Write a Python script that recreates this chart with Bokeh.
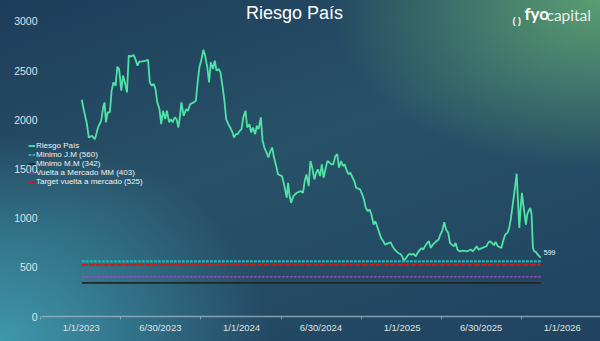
import pandas as pd
from bokeh.plotting import figure
from bokeh.models import Range1d, FixedTicker, Legend, LegendItem, Label
from bokeh.embed import file_html
from bokeh.resources import INLINE

# ---------------- data ----------------
base_date = "2023-01-02"
days = [
    0, 5, 11, 16, 23, 30, 37, 44, 49, 52,
    55, 59, 64, 68, 72, 77, 81, 85, 90, 94,
    98, 103, 107, 112, 118, 122, 127, 131, 138, 146,
    151, 155, 159, 164, 168, 172, 177, 181, 185, 190,
    194, 199, 203, 207, 212, 216, 220, 223, 227, 232,
    238, 242, 247, 255, 260, 264, 268, 273, 277, 281,
    286, 290, 294, 299, 303, 307, 312, 316, 321, 325,
    329, 334, 338, 342, 347, 351, 355, 360, 364, 368,
    373, 377, 382, 386, 390, 395, 399, 403, 408, 412,
    416, 421, 425, 430, 434, 438, 443, 447, 456, 460,
    464, 467, 470, 473, 477, 482, 490, 499, 504, 508,
    512, 517, 521, 525, 530, 534, 538, 543, 547, 551,
    556, 560, 569, 573, 578, 582, 586, 591, 595, 599,
    604, 608, 612, 617, 621, 625, 634, 639, 643, 647,
    652, 656, 660, 665, 669, 673, 678, 682, 687, 691,
    700, 704, 708, 713, 717, 721, 726, 730, 734, 739,
    743, 747, 752, 756, 761, 765, 769, 774, 778, 782,
    787, 791, 795, 800, 804, 808, 813, 817, 821, 826,
    830, 835, 839, 843, 848, 852, 856, 861, 869, 878,
    887, 891, 896, 900, 904, 913, 922, 926, 930, 935,
    939, 943, 948, 956, 961, 965, 970, 974, 978, 981,
    984, 987, 991, 994, 997, 1000, 1003, 1006, 1009, 1012,
    1015, 1018, 1022, 1025, 1028, 1031, 1035, 1039, 1043, 1046,
]
riesgo_pais = [
    2204, 2092, 1973, 1820, 1837, 1803, 1922, 1990, 2132, 2177,
    1973, 2075, 2075, 2296, 2381, 2347, 2540, 2517, 2296, 2449,
    2381, 2279, 2653, 2643, 2660, 2619, 2551, 2592, 2595, 2602,
    2609, 2381, 2347, 2364, 2313, 2177, 2109, 1956, 2092, 2007,
    2092, 1973, 2007, 1973, 2024, 2007, 1922, 2007, 2177, 2041,
    2109, 2092, 2160, 2177, 2194, 2381, 2534, 2619, 2711, 2653,
    2534, 2381, 2585, 2517, 2602, 2500, 2517, 2483, 2330, 2194,
    2007, 1956, 1922, 1888, 1820, 1854, 1854, 1888, 1905, 2024,
    2092, 1922, 1956, 1871, 1922, 1854, 1939, 1905, 2024, 1786,
    1718, 1667, 1616, 1684, 1718, 1616, 1531, 1446, 1428, 1360,
    1275, 1207, 1360, 1241, 1156, 1224, 1258, 1275, 1258, 1377,
    1445, 1326, 1581, 1513, 1394, 1462, 1496, 1428, 1547, 1411,
    1513, 1581, 1547, 1547, 1633, 1650, 1513, 1581, 1530, 1547,
    1479, 1445, 1462, 1411, 1377, 1309, 1292, 1241, 1190, 1105,
    1071, 1088, 1037, 935, 969, 918, 850, 799, 765, 731,
    748, 755, 714, 680, 663, 646, 636, 612, 568, 595,
    622, 636, 629, 636, 612, 646, 670, 697, 680, 714,
    748, 765, 697, 731, 748, 765, 782, 833, 867, 959,
    884, 850, 748, 731, 714, 748, 680, 663, 670, 663,
    680, 663, 690, 714, 680, 697, 714, 748, 765, 748,
    724, 758, 714, 697, 782, 833, 850, 901, 1003, 1105,
    1207, 1309, 1452, 1173, 901, 1105, 1258, 1139, 1037, 935,
    1037, 1071, 1105, 1037, 697, 663, 656, 629, 612, 599,
]

level_names = ["Minimo J.M (560)", "Minimo M.M (342)",
               "Vuelta a Mercado MM (403)", "Target vuelta a mercado (525)"]
level_values = [560, 342, 403, 525]

y_ticks = [0, 500, 1000, 1500, 2000, 2500, 3000]
x_tick_dates = ["2023-01-01", "2023-06-30", "2024-01-01", "2024-06-30",
                "2025-01-01", "2025-06-30", "2026-01-01"]
x_tick_labels = ["1/1/2023", "6/30/2023", "1/1/2024", "6/30/2024",
                 "1/1/2025", "6/30/2025", "1/1/2026"]
x_minor_dates = ["2022-10-01", "2023-03-31", "2023-09-30", "2024-03-31",
                 "2024-09-30", "2025-03-31", "2025-09-30", "2026-03-31"]
axis_start = "2022-10-02"
axis_end = "2026-03-29"

# ---------------- build ----------------
dates = pd.Timestamp(base_date) + pd.to_timedelta(days, unit="D")


def ms(d):
    return float(pd.Timestamp(d).value // 10**6)


FONT = "Liberation Sans"

p = figure(width=600, height=341, x_axis_type="datetime",
           x_range=Range1d(pd.Timestamp("2022-08-29"), pd.Timestamp(axis_end)),
           y_range=Range1d(0, 3213),
           output_backend="svg", toolbar_location=None)
p.min_border = 0
p.min_border_left = 26
p.min_border_right = 0
p.min_border_top = 0
p.min_border_bottom = 25
p.background_fill_color = None
p.border_fill_color = None
p.outline_line_color = None
p.grid.visible = False
p.styles = {
    "background": (
        "radial-gradient(ellipse 45% 50% at 100% 0%, rgba(92,162,114,0.95), rgba(92,162,114,0) 100%),"
        "radial-gradient(ellipse 45% 60% at 0% 100%, rgba(64,156,176,0.95), rgba(64,156,176,0) 100%),"
        "linear-gradient(160deg, #1e3d5a 0%, #285268 45%, #20425f 100%)"
    )
}

# y axis
ya = p.yaxis[0]
ya.ticker = FixedTicker(ticks=y_ticks)
ya.axis_line_color = None
ya.major_tick_line_color = None
ya.minor_tick_line_color = None
ya.major_tick_out = 0
ya.major_tick_in = 0
ya.major_label_standoff = -11
ya.major_label_text_color = "#dde3e8"
ya.major_label_text_font = FONT
ya.major_label_text_font_size = "10.5px"

# x axis
xa = p.xaxis[0]
xa.bounds = (pd.Timestamp(axis_start), pd.Timestamp(axis_end))
xa.ticker = FixedTicker(ticks=[ms(d) for d in x_tick_dates],
                        minor_ticks=[ms(d) for d in x_minor_dates])
xa.major_label_overrides = {ms(d): lbl for d, lbl in zip(x_tick_dates, x_tick_labels)}
xa.axis_line_color = "#9fb2c0"
xa.axis_line_alpha = 0.8
xa.axis_line_width = 1.5
xa.major_tick_line_color = None
xa.major_tick_out = 0
xa.major_tick_in = 0
xa.minor_tick_line_color = "#9fb2c0"
xa.minor_tick_line_alpha = 0.8
xa.minor_tick_out = 3
xa.minor_tick_in = 0
xa.major_label_standoff = 2
xa.major_label_text_color = "#dde3e8"
xa.major_label_text_font = FONT
xa.major_label_text_font_size = "9.5px"

# series
r_main = p.line(dates, riesgo_pais, line_color="#4fe3a5", line_width=1.8)

level_styles = [
    dict(line_color="#1fb3b3", line_width=2.2, line_dash="3 1"),
    dict(line_color="#20262b", line_width=1.6, line_dash="solid"),
    dict(line_color="#a350c0", line_width=1.4, line_dash="3 1"),
    dict(line_color="#d01818", line_width=2.0, line_dash="6 1"),
]
x_ends = [dates[0], dates[-1]]
level_renderers = []
for val, st in zip(level_values, level_styles):
    level_renderers.append(p.line(x_ends, [val, val], **st))

items = [LegendItem(label="Riesgo País", renderers=[r_main])]
for name, r in zip(level_names, level_renderers):
    items.append(LegendItem(label=name, renderers=[r]))

legend = Legend(items=items, location=(2, 130), orientation="vertical",
                background_fill_alpha=0, border_line_color=None,
                label_text_font=FONT, label_text_font_size="8px",
                label_text_color="#eef3f5", glyph_width=7, glyph_height=9,
                label_height=9, spacing=0, padding=0, margin=0,
                label_standoff=1)
p.add_layout(legend)

# end value label
p.add_layout(Label(x=dates[-1], y=riesgo_pais[-1], text=str(riesgo_pais[-1]),
                   x_offset=3, y_offset=5, text_baseline="middle",
                   text_font=FONT, text_font_size="7px", text_color="#eef3f5"))

# title
p.add_layout(Label(x=268, y=304, x_units="screen", y_units="screen",
                   text="Riesgo País", text_align="center", text_baseline="middle",
                   text_font=FONT, text_font_size="18px", text_color="#ffffff"))

# logo
p.add_layout(Label(x=486, y=291, x_units="screen", y_units="screen", text="( )",
                   text_font=FONT, text_font_size="9px", text_font_style="bold",
                   text_color="#f2f6f4"))
p.add_layout(Label(x=498, y=293, x_units="screen", y_units="screen", text="fyo",
                   text_font="Lato", text_font_size="17px", text_font_style="bold",
                   text_color="#ffffff"))
p.add_layout(Label(x=520, y=293, x_units="screen", y_units="screen", text="capital",
                   text_font="Lato", text_font_size="15.5px",
                   text_color="#e8f0ec"))

open("out.html", "w").write(file_html(p, INLINE))
